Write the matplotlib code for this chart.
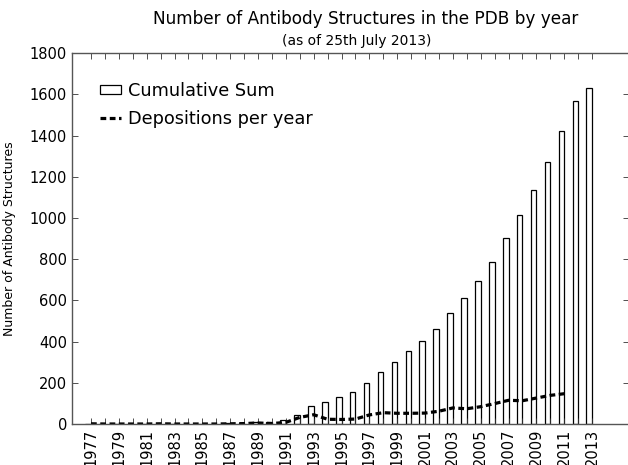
import matplotlib
matplotlib.use("Agg")
import matplotlib.pyplot as plt
import numpy as np
from matplotlib.patches import Patch
from matplotlib.lines import Line2D

years = list(range(1977, 2014))
cumulative = [1, 1, 1, 1, 1, 2, 2, 2, 2, 2, 3, 5, 11, 12, 20, 42,
              87, 107, 131, 154, 198, 253, 301, 353, 405, 462, 540,
              610, 692, 788, 903, 1013, 1136, 1273, 1421, 1567, 1631]
dep_years = list(range(1977, 2012))
depositions = [1, 0, 0, 0, 0, 1, 0, 0, 0, 0, 1, 2, 5, 2, 8, 32,
               45, 23, 22, 24, 44, 55, 52, 52, 53, 62, 78,
               74, 84, 99, 115, 113, 126, 139, 147]
tick_labels = [str(y) if (y - 1977) % 2 == 0 else "" for y in years]

W, H = 628, 465
fig = plt.figure(figsize=(W / 100, H / 100), dpi=100)
left, right, top, bottom = 72, 629, 53.3, 424
ax = fig.add_axes([left / W, 1 - bottom / H, (right - left) / W, (bottom - top) / H])

ax.bar(years, cumulative, width=-0.4, align="edge", facecolor="white",
       edgecolor="black", linewidth=0.9, label="Cumulative Sum")
ax.plot(dep_years, depositions, color="black", linewidth=2.3,
        linestyle=(0, (1.8, 1.1)), label="Depositions per year")

px_per_year = (592 - 91) / 36
ax.set_xlim(1977 - (91 - left) / px_per_year, 2013 + (right - 592) / px_per_year)
ax.set_ylim(0, 1800)
ax.set_yticks(range(0, 1801, 200))
ax.set_xticks(years)
ax.set_xticklabels(tick_labels, rotation=90, fontsize=10.5)
ax.tick_params(axis="y", labelsize=10.5)
ax.tick_params(direction="in", length=4, width=0.6, top=True, right=True, color="#333333")
for s in ax.spines.values():
    s.set_linewidth(1.0)
    s.set_color("#555555")

ax.set_ylabel("Number of Antibody Structures", fontsize=9)
ax.yaxis.set_label_coords((16 - left) / (right - left), 0.5)

fig.text(366 / W, 1 - 19 / H, "Number of Antibody Structures in the PDB by year",
         ha="center", va="center", fontsize=12.2)
fig.text(357 / W, 1 - 41 / H, "(as of 25th July 2013)", ha="center", va="center", fontsize=10)

handles = [Patch(facecolor="white", edgecolor="black", linewidth=0.9),
           Line2D([0], [0], color="black", linewidth=2.3, linestyle=(0, (1.8, 1.1)))]
leg = ax.legend(handles, ["Cumulative Sum", "Depositions per year"], loc="upper left",
                frameon=False, fontsize=12.8, handlelength=1.2, handleheight=0.45,
                handletextpad=0.4, labelspacing=0.55,
                bbox_to_anchor=((84 - left) / (right - left), 1 - (66 - top) / (bottom - top)))

fig.savefig("out.png", dpi=100)
